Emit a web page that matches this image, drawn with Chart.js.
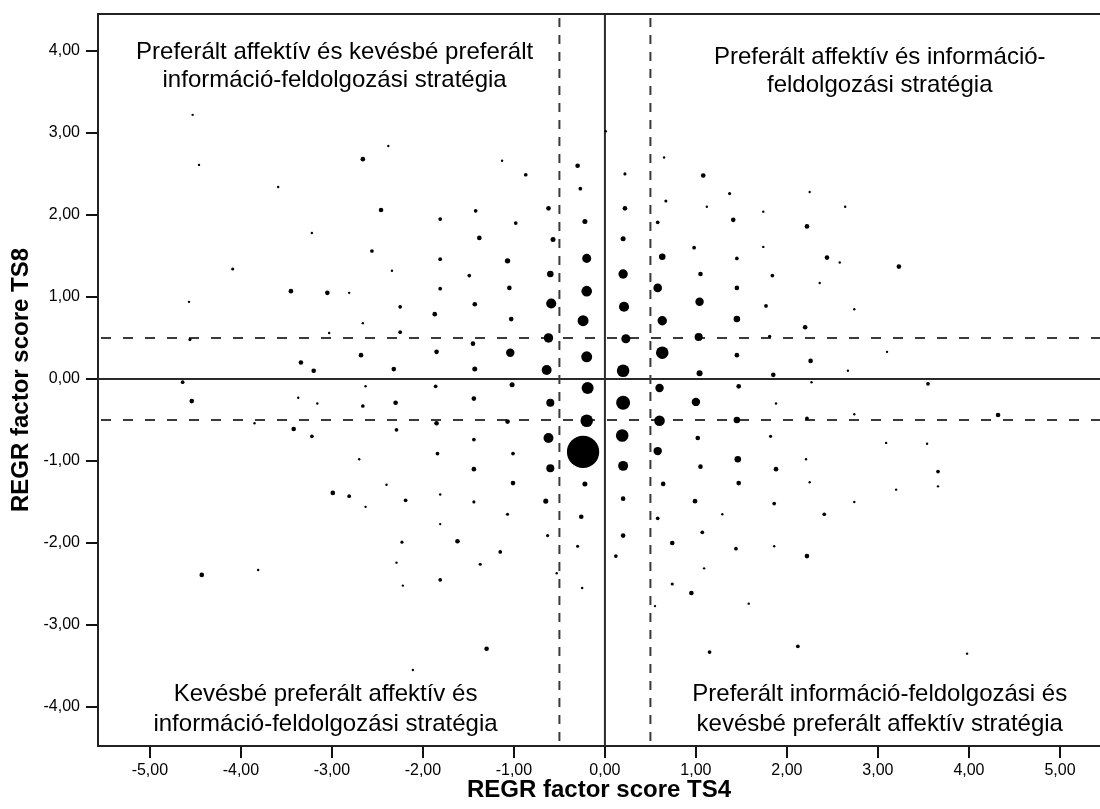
<!DOCTYPE html>
<html>
<head>
<meta charset="utf-8">
<script src="https://cdn.jsdelivr.net/npm/chart.js@4.4.0/dist/chart.umd.min.js"></script>
<style>
  html, body { margin:0; padding:0; background:#fff; }
  #wrap { width:1100px; height:809px; position:relative; }
</style>
</head>
<body>
<div id="wrap"><canvas id="chart"></canvas></div>
<script>
// REGR factor scores: TS4 (x), TS8 (y), number of cases at each point
const ts4 = [
  -4.53,-4.46,-3.59,-2.66,-3.22,-4.09,
  -2.38,-1.13,-0.87,-0.30,-0.27,0.01,0.22,0.65,1.08,1.37,
  -2.46,-1.81,-1.42,-0.98,-0.62,-0.22,0.22,0.67,1.12,0.58,
  -2.56,-2.34,-1.81,-1.38,-1.07,-0.57,-0.20,0.20,0.63,0.98,
  -1.49,-0.60,0.20,1.05,
  2.25,2.64,1.74,1.41,2.22,1.74,1.45,2.44,2.58,3.23,1.84,
  -4.57,-3.45,-3.05,-2.81,-2.66,-4.56,-3.03,-2.68,-3.34,-3.20,
  -4.64,-4.54,-3.37,-3.16,-2.63,-2.66,-3.85,-3.42,-3.22,-2.70,-2.99,-2.81,-2.63,
  -1.81,-1.05,-0.20,0.58,-2.25,-1.43,-0.59,0.21,1.04,
  -1.87,-1.03,-0.24,0.63,-2.25,-1.45,-0.62,0.23,1.03,
  -1.85,-1.04,-0.20,0.63,-2.32,-1.43,-0.64,0.20,1.04,
  -1.86,-1.02,-0.19,0.60,-2.30,-1.44,-0.60,0.20,1.00,
  -1.85,-1.07,-0.20,0.60,-2.29,-1.44,-0.62,0.19,1.02,
  -1.84,-1.01,-0.24,0.58,-1.44,-0.60,0.20,1.05,
  -2.40,-1.01,-0.22,0.64,-1.81,-2.19,-1.44,-0.65,0.20,0.99,
  -1.07,-0.26,0.58,1.29,-1.81,1.07,0.20,-0.63,-2.23,-1.62,-0.30,0.74,
  2.36,1.45,1.77,2.74,1.45,2.20,1.81,1.45,2.26,3.10,1.85,2.67,
  1.47,2.27,3.55,1.88,1.45,2.22,2.74,4.32,1.82,3.09,3.54,
  1.46,2.21,1.88,3.66,1.47,2.25,3.66,3.20,1.86,2.74,2.41,1.86,1.44,
  -4.43,-3.81,
  -1.15,0.12,-2.29,-1.37,-0.53,1.09,-2.22,-1.81,-0.25,0.74,0.95,0.55,-1.30,1.15,-2.11,
  2.22,1.58,2.12,3.98
];
const ts8 = [
  3.22,2.61,2.34,2.68,1.78,1.34,
  2.84,2.66,2.49,2.60,2.32,3.02,2.50,2.70,2.48,2.26,
  2.06,1.95,2.05,1.90,2.08,1.92,2.08,2.17,2.10,1.91,
  1.56,1.32,1.46,1.72,1.44,1.70,1.47,1.71,1.49,1.60,
  1.26,1.28,1.28,1.28,
  2.28,2.10,2.04,1.94,1.86,1.61,1.47,1.48,1.42,1.37,1.26,
  0.94,1.07,1.05,1.05,0.68,0.48,0.56,0.29,0.20,0.10,
  -0.04,-0.27,-0.23,-0.30,-0.09,-0.33,-0.54,-0.61,-0.70,-0.98,-1.39,-1.43,-1.56,
  1.10,1.11,1.07,1.11,0.88,0.91,0.92,0.88,0.94,
  0.79,0.73,0.71,0.71,0.57,0.43,0.50,0.49,0.51,
  0.33,0.32,0.27,0.32,0.12,0.12,0.11,0.10,0.07,
  -0.09,-0.07,-0.11,-0.11,-0.29,-0.24,-0.29,-0.29,-0.28,
  -0.54,-0.52,-0.51,-0.51,-0.62,-0.74,-0.72,-0.69,-0.72,
  -0.91,-0.91,-0.89,-0.88,-1.10,-1.09,-1.06,-1.07,
  -1.29,-1.27,-1.28,-1.28,-1.41,-1.48,-1.50,-1.49,-1.46,-1.49,
  -1.65,-1.68,-1.70,-1.65,-1.77,-1.87,-1.91,-1.91,-1.99,-1.98,-2.04,-2.00,
  1.17,1.11,0.89,0.85,0.73,0.63,0.52,0.29,0.22,0.33,0.05,0.10,
  -0.09,-0.04,-0.06,-0.30,-0.50,-0.48,-0.43,-0.44,-0.70,-0.78,-0.79,
  -0.98,-0.98,-1.10,-1.13,-1.27,-1.26,-1.31,-1.35,-1.52,-1.50,-1.65,-2.04,-2.07,
  -2.39,-2.33,
  -2.11,-2.16,-2.24,-2.26,-2.37,-2.31,-2.52,-2.45,-2.55,-2.50,-2.61,-2.77,-3.29,-3.33,-3.55,
  -2.16,-2.74,-3.26,-3.35
];
const counts = [
  1,1,1,5,1,2,
  1,1,3,5,3,1,2,1,5,2,
  5,3,3,3,5,6,5,2,1,3,
  3,1,3,5,7,6,22,6,11,3,
  3,11,24,5,
  1,1,1,5,5,1,3,5,1,5,3,
  1,5,5,1,1,2,1,5,5,5,
  3,5,1,1,1,3,1,5,3,1,5,3,1,
  3,5,31,20,3,5,28,28,19,
  5,5,33,24,3,5,24,22,17,
  5,19,33,44,5,6,27,44,9,
  3,6,40,19,5,5,17,55,19,
  5,5,44,31,3,3,27,44,5,
  3,3,310,19,5,17,27,5,
  1,5,6,5,1,3,2,6,5,5,
  2,5,3,1,1,3,5,2,2,5,2,5,
  1,5,3,1,11,5,2,5,5,1,5,1,
  5,1,3,1,11,3,1,5,2,1,1,
  11,1,5,3,5,1,1,1,3,1,3,1,3,
  5,1,
  3,3,1,2,1,1,1,3,1,2,5,1,5,3,1,
  5,1,3,1
];
const xTicks = [-5, -4, -3, -2, -1, 0, 1, 2, 3, 4, 5];
const yTicks = [-4, -3, -2, -1, 0, 1, 2, 3, 4];
const xTitle = 'REGR factor score TS4';
const yTitle = 'REGR factor score TS8';
const quadrantText = [
  ['Preferált affektív és kevésbé preferált', 'információ-feldolgozási stratégia'],
  ['Preferált affektív és információ-', 'feldolgozási stratégia'],
  ['Kevésbé preferált affektív és', 'információ-feldolgozási stratégia'],
  ['Preferált információ-feldolgozási és', 'kevésbé preferált affektív stratégia']
];
const cutoff = 0.5;

const FONT = '"Liberation Sans", Arial, sans-serif';
const fmt = v => v.toFixed(2).replace('.', ',');

const points = ts4.map((x, i) => ({ x, y: ts8[i], r: Math.sqrt(counts[i]) * 0.9 + 0.3 }));

// reference lines, frame top edge and the quadrant captions
const refLines = {
  id: 'refLines',
  beforeDatasetsDraw(chart){
    const { ctx, chartArea: a, scales: { x, y } } = chart;
    ctx.save();
    ctx.beginPath(); ctx.rect(a.left, a.top, a.right - a.left, a.bottom - a.top); ctx.clip();
    ctx.strokeStyle = '#2a2a2a'; ctx.lineWidth = 2;
    const x0 = x.getPixelForValue(0), y0 = y.getPixelForValue(0);
    ctx.beginPath(); ctx.moveTo(x0, a.top); ctx.lineTo(x0, a.bottom); ctx.stroke();
    ctx.beginPath(); ctx.moveTo(a.left, y0); ctx.lineTo(a.right, y0); ctx.stroke();
    ctx.strokeStyle = '#3a3a3a';
    ctx.setLineDash([9, 8]);
    [-cutoff, cutoff].forEach(v => {
      const px = x.getPixelForValue(v);
      ctx.beginPath(); ctx.moveTo(px, a.top + 4); ctx.lineTo(px, a.bottom); ctx.stroke();
    });
    ctx.setLineDash([10, 12]);
    [-cutoff, cutoff].forEach(v => {
      const py = y.getPixelForValue(v);
      ctx.beginPath(); ctx.moveTo(a.left + 3, py); ctx.lineTo(a.right, py); ctx.stroke();
    });
    ctx.restore();
  },
  afterDraw(chart){
    const { ctx, chartArea: a, scales: { x } } = chart;
    ctx.save();
    ctx.strokeStyle = '#222'; ctx.lineWidth = 2;
    ctx.beginPath(); ctx.moveTo(a.left - 1, a.top); ctx.lineTo(a.right, a.top); ctx.stroke();
    ctx.fillStyle = '#000';
    ctx.font = '24px ' + FONT;
    ctx.textAlign = 'center'; ctx.textBaseline = 'middle';
    const spots = [
      { cx: -2.97, y1: a.top + 38, gap: 28 },
      { cx: 3.02,  y1: a.top + 43, gap: 28 },
      { cx: -3.07, y1: a.bottom - 52, gap: 30 },
      { cx: 3.02,  y1: a.bottom - 52, gap: 30 }
    ];
    quadrantText.forEach((lines, i) => {
      const px = x.getPixelForValue(spots[i].cx);
      lines.forEach((t, j) => ctx.fillText(t, px, spots[i].y1 + j * spots[i].gap));
    });
    ctx.restore();
  }
};

new Chart(document.getElementById('chart'), {
  type: 'bubble',
  data: {
    datasets: [{
      data: points,
      backgroundColor: '#000',
      borderWidth: 0,
      hoverRadius: 0
    }]
  },
  options: {
    responsive: true,
    maintainAspectRatio: false,
    animation: false,
    events: [],
    layout: { autoPadding: false, padding: { top: 14, right: 0, left: 0, bottom: 0 } },
    plugins: { legend: { display: false }, tooltip: { enabled: false } },
    scales: {
      x: {
        type: 'linear', min: -5.57, max: 5.44,
        afterBuildTicks: s => { s.ticks = xTicks.map(v => ({ value: v })); },
        afterFit: s => { s.height = 63; s.paddingLeft = 0; s.paddingRight = 0; },
        grid: { drawOnChartArea: false, drawTicks: true, tickLength: 12, color: '#111', lineWidth: 2 },
        border: { display: true, color: '#222', width: 2 },
        ticks: { color: '#000', padding: 3, font: { family: FONT, size: 16 }, callback: v => fmt(v), maxRotation: 0 },
        title: { display: true, text: xTitle, color: '#000', font: { family: FONT, size: 24, weight: 'bold' }, padding: { top: 0, bottom: 4 } }
      },
      y: {
        type: 'linear', min: -4.476, max: 4.45,
        afterBuildTicks: s => { s.ticks = yTicks.map(v => ({ value: v })); },
        afterFit: s => { s.width = 98; s.paddingTop = 0; s.paddingBottom = 0; },
        grid: { drawOnChartArea: false, drawTicks: true, tickLength: 12, color: '#111', lineWidth: 2 },
        border: { display: true, color: '#222', width: 2 },
        ticks: { color: '#000', padding: 6, font: { family: FONT, size: 16 }, callback: v => fmt(v) },
        title: { display: true, text: yTitle, color: '#000', font: { family: FONT, size: 24, weight: 'bold' }, padding: { top: 7, bottom: 0 } }
      }
    }
  },
  plugins: [refLines]
});
</script>
</body>
</html>
